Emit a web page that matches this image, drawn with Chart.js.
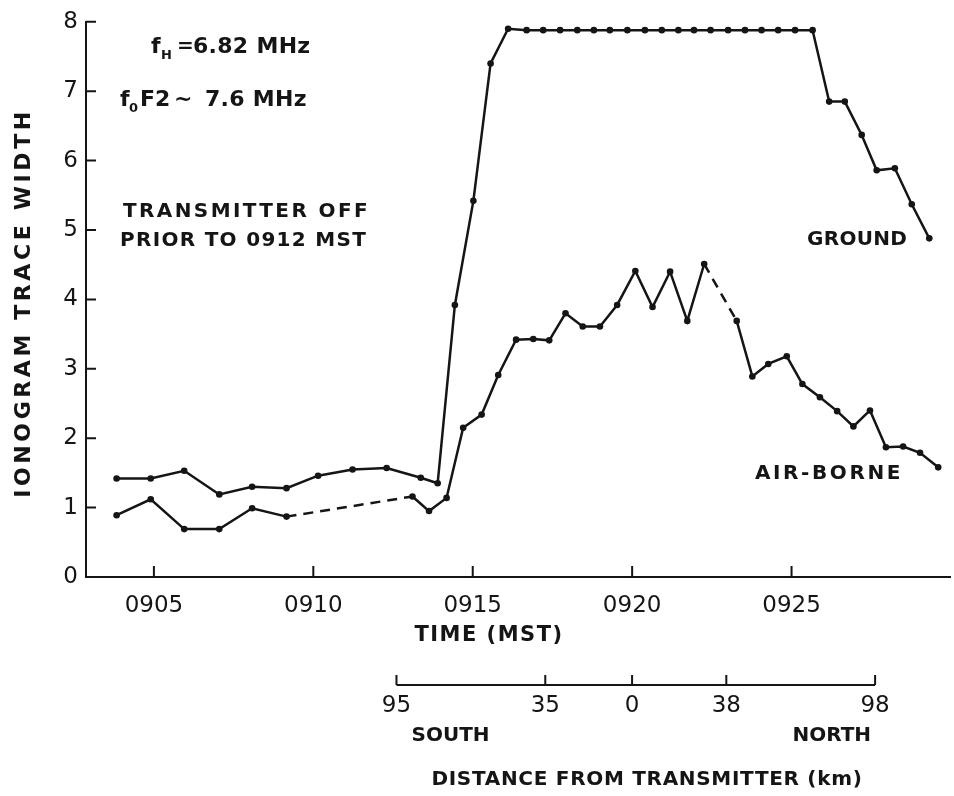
<!DOCTYPE html>
<html>
<head>
<meta charset="utf-8">
<script src="https://cdn.jsdelivr.net/npm/chart.js@4.4.1/dist/chart.umd.min.js"></script>
<style>
  html, body { margin: 0; padding: 0; background: #fff; }
  canvas { display: block; }
</style>
</head>
<body>
<canvas id="traceChart" width="954" height="796"></canvas>
<script>
// time is minutes after 0900 MST
const groundTime = [3.83, 4.90, 5.95, 7.05, 8.08, 9.16, 10.15, 11.23, 12.30, 13.37, 13.90,
    14.44, 15.02, 15.56, 16.11, 16.69, 17.21, 17.74, 18.28, 18.80, 19.30, 19.85, 20.40,
    20.93, 21.45, 21.94, 22.46, 23.01, 23.54, 24.06, 24.58, 25.11, 25.66,
    26.18, 26.67, 27.20, 27.67, 28.24, 28.77, 29.32];
const groundWidth = [1.42, 1.42, 1.53, 1.19, 1.30, 1.28, 1.46, 1.55, 1.57, 1.43, 1.35,
    3.92, 5.42, 7.40, 7.90, 7.88, 7.88, 7.88, 7.88, 7.88, 7.88, 7.88, 7.88,
    7.88, 7.88, 7.88, 7.88, 7.88, 7.88, 7.88, 7.88, 7.88, 7.88,
    6.85, 6.85, 6.37, 5.86, 5.89, 5.37, 4.88];

const airTime = [3.83, 4.90, 5.95, 7.05, 8.08, 9.16, 13.11, 13.63, 14.18, 14.70, 15.28,
    15.80, 16.36, 16.90, 17.40, 17.91, 18.45, 18.99, 19.53, 20.10, 20.64, 21.19, 21.73,
    22.26, 23.28, 23.77, 24.27, 24.85, 25.34, 25.89, 26.43, 26.94, 27.46, 27.96, 28.50,
    29.03, 29.60];
const airWidth = [0.89, 1.12, 0.69, 0.69, 0.99, 0.87, 1.16, 0.95, 1.14, 2.15, 2.34,
    2.91, 3.42, 3.43, 3.41, 3.80, 3.61, 3.61, 3.92, 4.41, 3.89, 4.40, 3.69,
    4.51, 3.69, 2.89, 3.07, 3.18, 2.78, 2.59, 2.39, 2.17, 2.40, 1.87, 1.88,
    1.79, 1.58];
// segments that start at these indexes are dashed (no data in between)
const airDashedAfter = [5, 23];

const timeTicks = [5, 10, 15, 20, 25];
const timeLabels = ['0905', '0910', '0915', '0920', '0925'];
const timeMin = 2.87;
const timeMax = 29.97;

// distance from transmitter, south negative
const distTicks = [-95, -35, 0, 38, 98];
const distLabels = ['95', '35', '0', '38', '98'];
const distMin = -220.2;
const distMax = 128.2;

const ink = '#151515';
const face = '"DejaVu Sans", sans-serif';


function put(ctx, text, x, y, size, opts = {}) {
    ctx.save();
    ctx.font = (opts.weight || 'bold') + ' ' + size + 'px ' + face;
    ctx.letterSpacing = (opts.ls || 0) + 'px';
    ctx.textAlign = opts.align || 'left';
    ctx.textBaseline = 'middle';
    ctx.fillStyle = ink;
    ctx.fillText(text, x, y);
    ctx.restore();
}


const annotate = {
    id: 'annotate',
    afterDraw(chart) {
        const ctx = chart.ctx;
        const area = chart.chartArea;
        const xs = chart.scales.x;
        const ys = chart.scales.y;
        const ds = chart.scales.x2;

        ctx.save();
        ctx.strokeStyle = ink;
        ctx.lineWidth = 2;
        ctx.beginPath();
        // inner tick marks
        for (const t of ys.ticks) {
            const py = ys.getPixelForValue(t.value);
            ctx.moveTo(area.left, py);
            ctx.lineTo(area.left + 10, py);
        }
        for (const v of timeTicks) {
            const px = xs.getPixelForValue(v);
            ctx.moveTo(px, area.bottom);
            ctx.lineTo(px, area.bottom - 11);
        }
        // distance axis
        const dy = area.bottom + 108;
        ctx.moveTo(ds.getPixelForValue(distTicks[0]), dy);
        ctx.lineTo(ds.getPixelForValue(distTicks[distTicks.length - 1]), dy);
        for (const v of distTicks) {
            const px = ds.getPixelForValue(v);
            ctx.moveTo(px, dy);
            ctx.lineTo(px, dy - 10);
        }
        ctx.stroke();
        ctx.restore();

        distTicks.forEach((v, i) => {
            put(ctx, distLabels[i], ds.getPixelForValue(v), dy + 21, 23, { weight: 'normal', align: 'center' });
        });
        put(ctx, 'SOUTH', ds.getPixelForValue(distTicks[0]) + 15, dy + 51, 20);
        put(ctx, 'NORTH', ds.getPixelForValue(distTicks[distTicks.length - 1]) - 4, dy + 51, 20, { align: 'right' });
        put(ctx, 'DISTANCE FROM TRANSMITTER (km)', 647, dy + 95, 20, { align: 'center', ls: 0.7 });

        put(ctx, 'TIME (MST)', 489, area.bottom + 59, 21, { align: 'center', ls: 1.5 });

        ctx.save();
        ctx.translate(24, 303);
        ctx.rotate(-Math.PI / 2);
        put(ctx, 'IONOGRAM TRACE WIDTH', 0, 0, 22, { align: 'center', ls: 3.6 });
        ctx.restore();

        // notes
        put(ctx, 'f', 151, 47, 22);
        put(ctx, 'H', 161, 56, 13);
        put(ctx, '=', 177, 47, 20);
        put(ctx, '6.82 MHz', 193, 47, 22, { ls: 0.3 });
        put(ctx, 'f', 120, 100, 22);
        put(ctx, '0', 129, 109, 13);
        put(ctx, 'F2', 140, 100, 22);
        put(ctx, '~', 174, 100, 22);
        put(ctx, '7.6 MHz', 205, 100, 22, { ls: 0.3 });
        put(ctx, 'TRANSMITTER OFF', 123, 212, 20, { ls: 2.4 });
        put(ctx, 'PRIOR TO 0912 MST', 120, 241, 20, { ls: 1.3 });
        put(ctx, 'GROUND', 807, 240, 20, { ls: 0.3 });
        put(ctx, 'AIR-BORNE', 755, 474, 20, { ls: 2.6 });
    }
};


const ctx = document.getElementById('traceChart').getContext('2d');
const tickFont = { family: face, size: 23 };

new Chart(ctx, {
    type: 'line',
    data: {
        datasets: [{
            label: 'GROUND',
            data: groundTime.map((t, i) => ({ x: t, y: groundWidth[i] })),
            borderColor: ink,
            backgroundColor: ink,
            borderWidth: 2.5,
            pointRadius: 3.3,
            pointBorderWidth: 0,
            pointBackgroundColor: ink
        }, {
            label: 'AIR-BORNE',
            data: airTime.map((t, i) => ({ x: t, y: airWidth[i] })),
            borderColor: ink,
            backgroundColor: ink,
            borderWidth: 2.5,
            pointRadius: 3.3,
            pointBorderWidth: 0,
            pointBackgroundColor: ink,
            segment: {
                borderDash: c => airDashedAfter.includes(c.p0DataIndex) ? [10, 7] : undefined
            }
        }]
    },
    options: {
        responsive: false,
        animation: false,
        layout: { padding: { top: 20, right: 4, left: 0, bottom: 0 } },
        plugins: {
            legend: { display: false },
            tooltip: { enabled: false }
        },
        scales: {
            x: {
                type: 'linear',
                min: timeMin,
                max: timeMax,
                afterBuildTicks: s => { s.ticks = timeTicks.map(v => ({ value: v })); },
                afterFit: s => { s.height = 219; },
                ticks: {
                    callback: v => timeLabels[timeTicks.indexOf(v)],
                    font: tickFont,
                    color: ink,
                    padding: 15,
                    maxRotation: 0,
                    autoSkip: false
                },
                grid: { display: false, drawTicks: false },
                border: { display: true, color: ink, width: 2 }
            },
            x2: {
                type: 'linear',
                display: false,
                position: 'bottom',
                min: distMin,
                max: distMax
            },
            y: {
                min: 0,
                max: 8,
                afterFit: s => { s.width = 86; },
                ticks: {
                    stepSize: 1,
                    font: tickFont,
                    color: ink,
                    padding: 8
                },
                grid: { display: false, drawTicks: false },
                border: { display: true, color: ink, width: 2 }
            }
        }
    },
    plugins: [annotate]
});
</script>
</body>
</html>
